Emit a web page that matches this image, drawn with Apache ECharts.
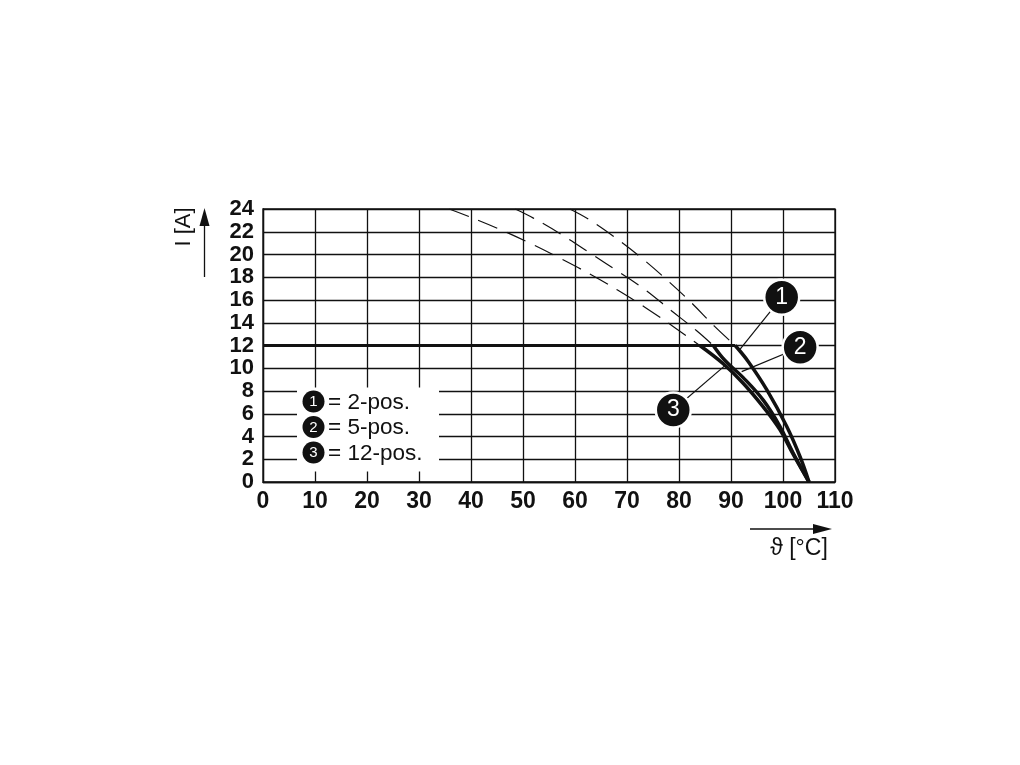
<!DOCTYPE html>
<html>
<head>
<meta charset="utf-8">
<script src="https://cdn.jsdelivr.net/npm/echarts@6/dist/echarts.min.js"></script>
<style>html,body{margin:0;padding:0;background:#fff;}#c{width:1020px;height:765px;}</style>
</head>
<body>
<div id="c"></div>
<script>
// Tick values
const xTicks = [0,10,20,30,40,50,60,70,80,90,100,110];
const yTicks = [0,2,4,6,8,10,12,14,16,18,20,22,24];

// Flat rated current
const flatLine = [[0,12],[90.8,12]];

// Solid derating curves (below 12 A)
const solid1 = [[90.8,12],[93.3,10.6],[96.9,8.1],[100.7,4.9],[103.3,2.2],[105,0]];
const solid2 = [[86.6,12],[88.8,10.7],[92.3,9.2],[96.2,7.2],[99.4,4.9],[102,2.5],[105,0]];
const solid3 = [[84,12],[88.5,10.4],[92.3,8.7],[96.2,6.6],[99.4,4.6],[102,2.4],[105,0]];

// Dashed continuations above 12 A
const dash1 = [[59,24],[62.6,23.1],[67.7,21.5],[72.8,19.7],[77.6,17.8],[82.3,15.8],[86.8,13.7],[90.8,12]];
const dash2 = [[48.5,24],[52,23.2],[57.6,21.7],[63,20.1],[68.3,18.5],[73.5,16.9],[78.4,15.1],[83.4,13.3],[86.6,12]];
const dash3 = [[35.8,24],[39.8,23.3],[45.6,22.2],[51.3,21.0],[57,19.7],[62.6,18.35],[68.1,16.9],[73.5,15.35],[78.8,13.7],[84,12]];

// Callout markers: [x, y, label] and leader lines
const callouts = [[99.75,16.24,'1'],[103.3,11.84,'2'],[78.9,6.33,'3']];
const leader1 = [[99.75,16.24],[91.6,11.6]];
const leader2 = [[103.3,11.84],[92.05,9.7]];
const leader3 = [[78.9,6.33],[89.0,10.3]];

// Legend entries
const legendItems = [['1','= 2-pos.'],['2','= 5-pos.'],['3','= 12-pos.']];

const FONT = 'Liberation Sans, Arial, sans-serif';
const INK = '#111';

const chart = echarts.init(document.getElementById('c'), null, {renderer:'canvas'});

function lineSeries(data, opts) {
  return Object.assign({
    type:'line', data: data, showSymbol:false, symbol:'none', silent:true,
    animation:false, z:5
  }, opts);
}

const series = [
  lineSeries(flatLine, {lineStyle:{color:INK,width:3}}),
  lineSeries(solid1, {smooth:0.4, lineStyle:{color:INK,width:3.5}}),
  lineSeries(solid2, {smooth:0.4, lineStyle:{color:INK,width:3.5}}),
  lineSeries(solid3, {smooth:0.4, lineStyle:{color:INK,width:3.5}}),
  lineSeries(dash1, {smooth:0.4, lineStyle:{color:INK,width:1.2,type:[21,10]}}),
  lineSeries(dash2, {smooth:0.4, lineStyle:{color:INK,width:1.2,type:[21,10]}}),
  lineSeries(dash3, {smooth:0.4, lineStyle:{color:INK,width:1.2,type:[21,10]}}),
  lineSeries(leader1, {lineStyle:{color:INK,width:1.2}, z:8}),
  lineSeries(leader2, {lineStyle:{color:INK,width:1.2}, z:8}),
  lineSeries(leader3, {lineStyle:{color:INK,width:1.2}, z:8}),
  {
    type:'scatter', silent:true, animation:false, z:10,
    data: callouts.map(c => ({value:[c[0],c[1]], name:c[2]})),
    symbol:'circle', symbolSize:35,
    itemStyle:{color:INK, borderColor:'#fff', borderWidth:2.5, opacity:1},
    label:{show:true, position:'inside', formatter:p=>p.name, color:'#fff',
      fontFamily:FONT, fontSize:23}
  }
];

// Legend graphic (box with numbered discs)
const GZ = 100;
const legendChildren = [
  {type:'rect', z:GZ, shape:{x:0,y:0,width:142,height:84}, style:{fill:'#fff'}}
];
legendItems.forEach((it,i) => {
  const cy = 14 + i*25.5;
  legendChildren.push({type:'circle', z:GZ+1, shape:{cx:16.5,cy:cy,r:11}, style:{fill:INK}});
  legendChildren.push({type:'text', z:GZ+2, x:16.5, y:cy+0.5, style:{text:it[0], fill:'#fff', font:'15px '+FONT, align:'center', verticalAlign:'middle'}});
  legendChildren.push({type:'text', z:GZ+2, x:31, y:cy+1, style:{text:it[1], fill:INK, font:'22.5px '+FONT, align:'left', verticalAlign:'middle'}});
});

chart.setOption({
  backgroundColor:'#fff',
  animation:false,
  grid:{left:263, top:209, width:572, height:273, show:true, borderColor:INK, borderWidth:1.3, backgroundColor:'transparent'},
  xAxis:{
    type:'value', min:xTicks[0], max:xTicks[xTicks.length-1], interval:10,
    axisLine:{show:true, lineStyle:{color:INK,width:1.3}},
    axisTick:{show:false},
    splitLine:{show:true, lineStyle:{color:INK,width:1.3}},
    axisLabel:{color:INK, fontFamily:FONT, fontWeight:'bold', fontSize:23, margin:8, showMaxLabel:true, showMinLabel:true}
  },
  yAxis:{
    type:'value', min:yTicks[0], max:yTicks[yTicks.length-1], interval:2,
    axisLine:{show:true, lineStyle:{color:INK,width:1.3}},
    axisTick:{show:false},
    splitLine:{show:true, lineStyle:{color:INK,width:1.3}},
    axisLabel:{color:INK, fontFamily:FONT, fontWeight:'bold', fontSize:22, margin:9, showMaxLabel:true, showMinLabel:true}
  },
  graphic:[
    {type:'group', x:297, y:387.5, z:GZ, children:legendChildren},
    // Y axis name and arrow
    {type:'text', x:184, y:227, rotation:Math.PI/2, z:GZ,
      style:{text:'I [A]', fill:INK, font:'22px '+FONT, align:'center', verticalAlign:'middle'}},
    {type:'line', z:GZ, shape:{x1:204.5,y1:277,x2:204.5,y2:222}, style:{stroke:INK,lineWidth:1.3}},
    {type:'polygon', z:GZ, shape:{points:[[204.5,208],[199.5,226],[209.5,226]]}, style:{fill:INK}},
    // X axis name and arrow
    {type:'line', z:GZ, shape:{x1:750,y1:529,x2:816,y2:529}, style:{stroke:INK,lineWidth:1.3}},
    {type:'polygon', z:GZ, shape:{points:[[832,529],[813,524],[813,534]]}, style:{fill:INK}},
    {type:'text', x:799, y:549, z:GZ,
      style:{text:'ϑ [°C]', fill:INK, font:'23px '+FONT, align:'center', verticalAlign:'middle'}}
  ],
  series:series
});
</script>
</body>
</html>
